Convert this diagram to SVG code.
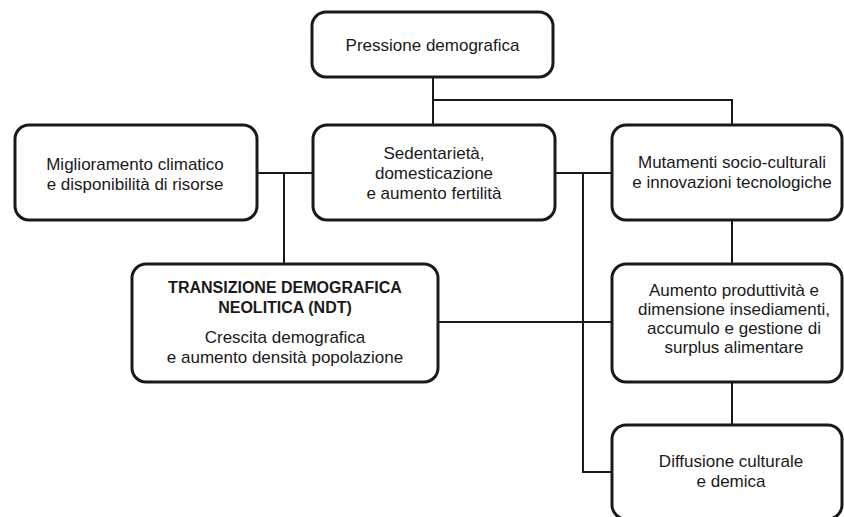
<svg xmlns="http://www.w3.org/2000/svg" width="844" height="517" viewBox="0 0 844 517">
<style>
.box{fill:#fff;stroke:#1a1a1a;stroke-width:3}
.t{font-family:"Liberation Sans",Arial,sans-serif;font-size:17px;fill:#1a1a1a;text-anchor:middle}
.b{font-weight:bold;font-size:16px}
.c{fill:none;stroke:#1a1a1a;stroke-width:2}
</style>
<rect width="844" height="517" fill="#fff"/>
<g id="connectors" class="c">
<path d="M433,77V125M433,100H732V125"/>
<path d="M257,173H313M284,173V264"/>
<path d="M555,173H612M583,173V472H612"/>
<path d="M438,322H612"/>
<path d="M732,220V264"/>
<path d="M732,382V425"/>
</g>
<g id="pressione">
<rect class="box" x="312" y="12" width="241" height="65" rx="14"/>
<text class="t" x="432.5" y="50.5">Pressione demografica</text>
</g>
<g id="miglioramento">
<rect class="box" x="15" y="125" width="242" height="95" rx="14"/>
<text class="t" x="135" y="170">Miglioramento climatico</text>
<text class="t" x="135" y="190">e disponibilità di risorse</text>
</g>
<g id="sedentarieta">
<rect class="box" x="313" y="125" width="242" height="95" rx="14"/>
<text class="t" x="434" y="158.5">Sedentarietà,</text>
<text class="t" x="434" y="178.5">domesticazione</text>
<text class="t" x="434" y="198.5">e aumento fertilità</text>
</g>
<g id="mutamenti">
<rect class="box" x="612" y="125" width="230" height="95" rx="14"/>
<text class="t" x="732" y="168">Mutamenti socio-culturali</text>
<text class="t" x="732" y="188">e innovazioni tecnologiche</text>
</g>
<g id="transizione">
<rect class="box" x="132" y="264" width="306" height="118" rx="14"/>
<text class="t b" x="285" y="293">TRANSIZIONE DEMOGRAFICA</text>
<text class="t b" x="285" y="313">NEOLITICA (NDT)</text>
<text class="t" x="285" y="343">Crescita demografica</text>
<text class="t" x="285" y="363">e aumento densità popolazione</text>
</g>
<g id="aumento">
<rect class="box" x="612" y="264" width="230" height="118" rx="14"/>
<text class="t" x="734" y="296">Aumento produttività e</text>
<text class="t" x="734" y="315">dimensione insediamenti,</text>
<text class="t" x="734" y="334">accumulo e gestione di</text>
<text class="t" x="734" y="353">surplus alimentare</text>
</g>
<g id="diffusione">
<rect class="box" x="612" y="425" width="230" height="94" rx="14"/>
<text class="t" x="731" y="467">Diffusione culturale</text>
<text class="t" x="731" y="487">e demica</text>
</g>
</svg>
